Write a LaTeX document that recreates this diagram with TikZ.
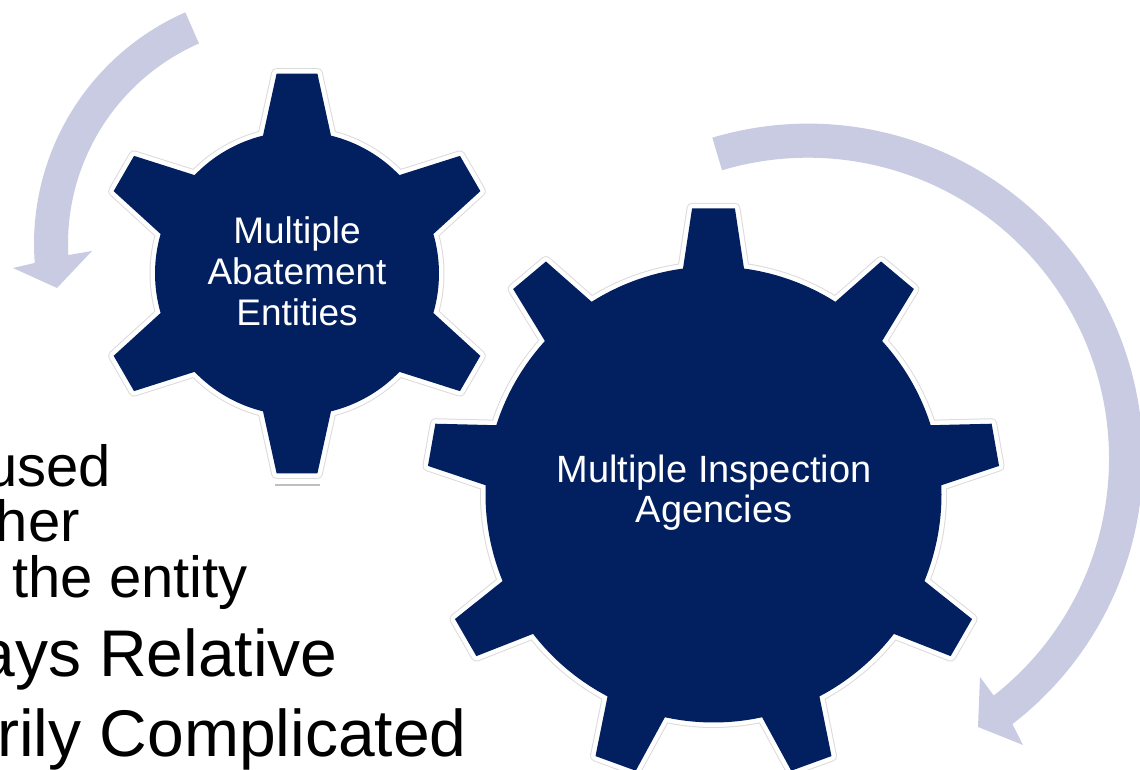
\documentclass[tikz,border=0pt]{standalone}
\usepackage{fontspec}
\setmainfont{Liberation Sans}
\definecolor{navy}{RGB}{2,32,96}
\definecolor{lav}{RGB}{201,203,226}
\tikzset{
  gearbody/.style={fill=navy,
    preaction={draw=black!14, line width=11pt, line join=round},
    preaction={draw=white, line width=9pt, line join=round}},
  arrowband/.style={fill=lav},
  geartext/.style={text=white, align=center, inner sep=0pt},
  bodytext/.style={anchor=base east, inner sep=0pt, text=black},
}
\begin{document}
\begin{tikzpicture}[x=1pt,y=1pt]
\path[use as bounding box] (0,0) rectangle (1140,770);
\clip (0,0) rectangle (1140,770);

% left curved arrow
\begin{scope}[shift={(287,526)}]
\fill[arrowband] (113.7:253) arc[start angle=113.7, end angle=184.3, radius=253]
  -- (-274,-24) -- (-230,-44) -- (-195,-7) -- (182.9:219)
  arc[start angle=182.9, end angle=113.7, radius=219] -- cycle;
\end{scope}

% right curved arrow
\begin{scope}[shift={(808,311.3)}]
\fill[arrowband] (106.6:335) arc[start angle=106.6, end angle=-52.4, radius=335]
  -- (215,-286.3) -- (170,-268.3) -- (172,-218.3) -- (-51.9:301)
  arc[start angle=-51.9, end angle=106.6, radius=301] -- cycle;
\end{scope}

% small gear
\begin{scope}[shift={(297,496.5)}]
\path[gearbody] (76.15:142) \foreach \k in {0,...,5} {
  -- ({90+60*\k-5.82}:201) -- ({90+60*\k+5.82}:201) -- ({90+60*\k+13.85}:142)
  arc[start angle={90+60*\k+13.85}, end angle={150+60*\k-13.85}, radius=142] } -- cycle;
\end{scope}
\draw[black!25, line width=2.5pt] (275,285) -- (320,285);

% big gear
\begin{scope}[shift={(713.5,275.5)}]
\path[gearbody] (82.31:228) \foreach \k in {0,...,8} {
  -- ({90+40*\k-4.28}:287) -- ({90+40*\k+4.28}:287) -- ({90+40*\k+7.69}:228)
  arc[start angle={90+40*\k+7.69}, end angle={130+40*\k-7.69}, radius=228] } -- cycle;
\end{scope}

\node[geartext, font=\fontsize{37}{41}\selectfont] (abate) at (297,499) {Multiple\\Abatement\\Entities};
\node[geartext, font=\fontsize{38}{40}\selectfont] (inspect) at (714,277.5) {Multiple Inspection\\Agencies};

\node[bodytext, font=\fontsize{58}{60}\selectfont] (t1) at (111,283) {used};
\node[bodytext, font=\fontsize{58}{60}\selectfont] (t2) at (80,228) {her};
\node[bodytext, font=\fontsize{58}{60}\selectfont] (t3) at (248,172) {the entity};
\node[bodytext, font=\fontsize{66}{68}\selectfont] (t4) at (338,93) {ays Relative};
\node[bodytext, font=\fontsize{66}{68}\selectfont] (t5) at (467,13) {rily Complicated};
\end{tikzpicture}
\end{document}
